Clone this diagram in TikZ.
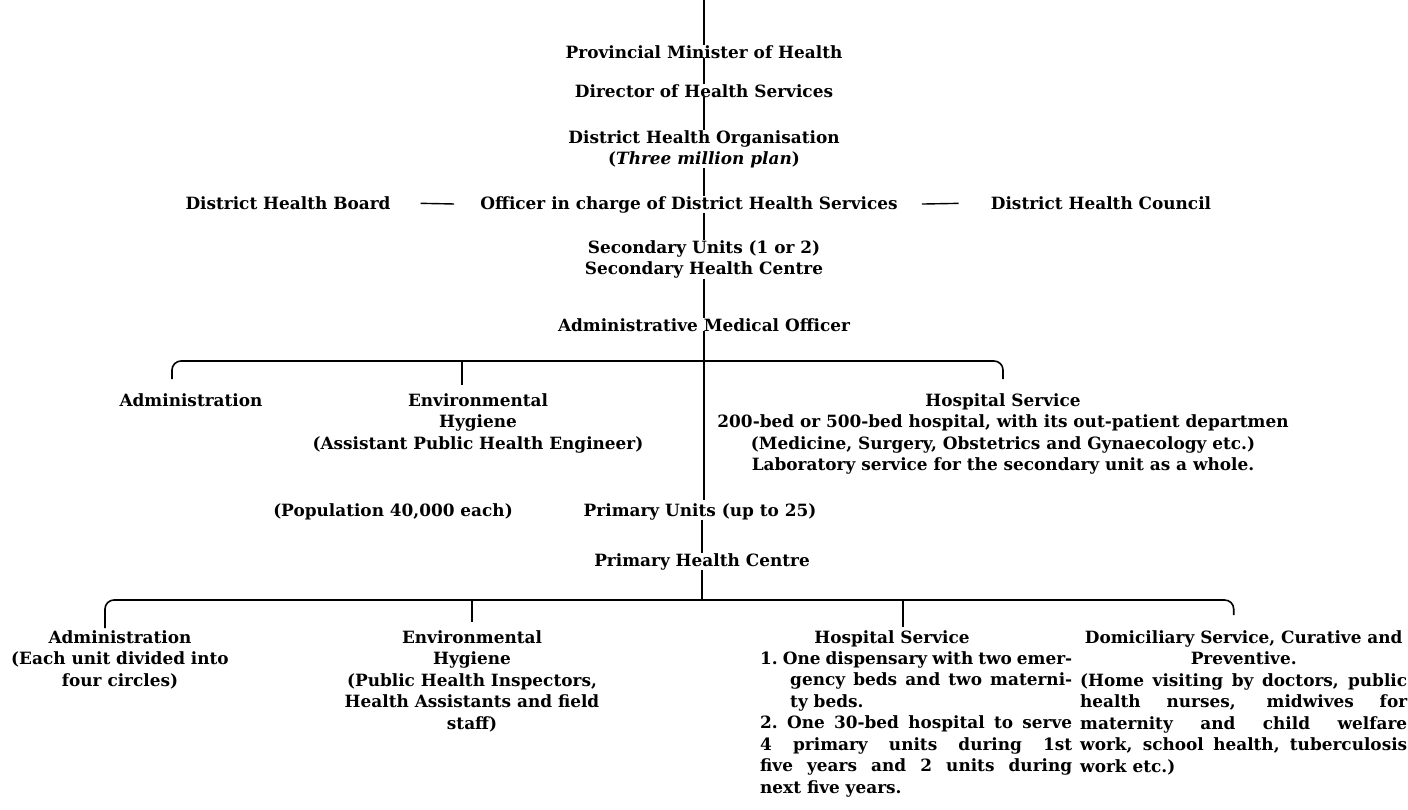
\documentclass[tikz,border=0pt]{standalone}
\usepackage{fontspec}
\setmainfont{DejaVu Serif}
\setlength{\parindent}{0pt}
\tikzset{
  lbl/.style={inner sep=0pt, anchor=north, align=center},
  para/.style={inner sep=0pt, anchor=north west, align=justify},
  link/.style={line width=1.6pt},
  brace/.style={link, rounded corners=9pt},
  dashlink/.style={line width=1.4pt}
}
\begin{document}
\begin{tikzpicture}[x=1pt,y=-1pt,font=\fontsize{16.9}{21.5}\selectfont\bfseries]
\useasboundingbox (0,0) rectangle (1408,809);
% district level
\coordinate (top) at (704,0);
\node[lbl] (pmh) at (704,45) {Provincial Minister of Health};
\node[lbl] (dhs) at (704,84) {Director of Health Services};
\node[lbl] (dho) at (704,130) {District Health Organisation\\(\textit{Three million plan})};
\node[lbl] (ohs) at (689,196) {Officer in charge of District Health Services};
\node[lbl] (dhb) at (288,196) {District Health Board};
\node[lbl] (dhc) at (1101,196) {District Health Council};
\node[lbl] (su) at (704,240) {Secondary Units (1 or 2)\\Secondary Health Centre};
\node[lbl] (amo) at (704,318) {Administrative Medical Officer};
\draw[link] (top) -- (pmh.north);
\draw[link] (pmh.south) -- (dhs.north);
\draw[link] (dhs.south) -- (dho.north);
\draw[link] (dho.south) -- (dho.south |- ohs.north);
\draw[link] (su.north |- ohs.south) -- (su.north);
\draw[link] (su.south) -- (amo.north);
\draw[dashlink, shorten <=30pt, shorten >=26pt] (dhb.east) -- (ohs.west);
\draw[dashlink, shorten <=24pt, shorten >=32pt] (ohs.east) -- (dhc.west);
% secondary unit
\coordinate (sbar) at (704,361);
\node[lbl] (adm2) at (191,393) {Administration};
\node[lbl] (env2) at (478,393) {Environmental\\Hygiene\\(Assistant Public Health Engineer)};
\node[lbl] (hos2) at (1003,393) {Hospital Service\\200-bed or 500-bed hospital, with its out-patient departmen\\(Medicine, Surgery, Obstetrics and Gynaecology etc.)\\Laboratory service for the secondary unit as a whole.};
\draw[brace, shorten <=14pt, shorten >=14pt] ([xshift=-19pt]adm2.north) |- (sbar) -| (hos2.north);
\draw[link, shorten >=8pt] ([xshift=-16pt,yshift=32pt]env2.north) -- ([xshift=-16pt]env2.north);
\node[lbl] (pop) at (393,503) {(Population 40,000 each)};
\node[lbl] (pu) at (700,503) {Primary Units (up to 25)};
\node[lbl] (phc) at (702,553) {Primary Health Centre};
\draw[link, shorten >=3pt] (amo.south) -- (amo.south |- pu.north);
\draw[link] (phc.north |- pu.south) -- (phc.north);
% primary unit
\coordinate (pbar) at (702,600);
\node[lbl] (adm1) at (120,630) {Administration\\(Each unit divided into\\four circles)};
\node[lbl] (env1) at (472,630) {Environmental\\Hygiene\\(Public Health Inspectors,\\Health Assistants and field\\staff)};
\node[lbl] (hosh) at (892,630) {Hospital Service};
\node[para, text width=312pt] (hosl) at (760,651) {%
{\hangindent=30pt\hangafter=1 1.\ One dispensary with two emer-\linebreak gency beds and two materni-\linebreak ty beds.\par}
\hangindent=30pt\hangafter=1 2.\ One 30-bed hospital to serve\linebreak 4 primary units during 1st\linebreak five years and 2 units during\linebreak next five years.};
\node[para, text width=327pt] (dom) at (1080,630) {%
{\centering Domiciliary Service, Curative and\\Preventive.\par}
(Home visiting by doctors, public\linebreak health nurses, midwives for\linebreak maternity and child welfare\linebreak work, school health, tuberculosis\linebreak work etc.)};
\draw[link] (phc.south) -- (phc.south |- pbar);
\draw[brace, shorten <=2pt, shorten >=15pt] ([xshift=-15pt]adm1.north) |- (pbar) -| ([xshift=-10pt]dom.north);
\draw[link, shorten >=8pt] ([yshift=30pt]env1.north) -- (env1.north);
\draw[link, shorten >=3pt] ([xshift=11pt,yshift=30pt]hosh.north) -- ([xshift=11pt]hosh.north);
\end{tikzpicture}
\end{document}
